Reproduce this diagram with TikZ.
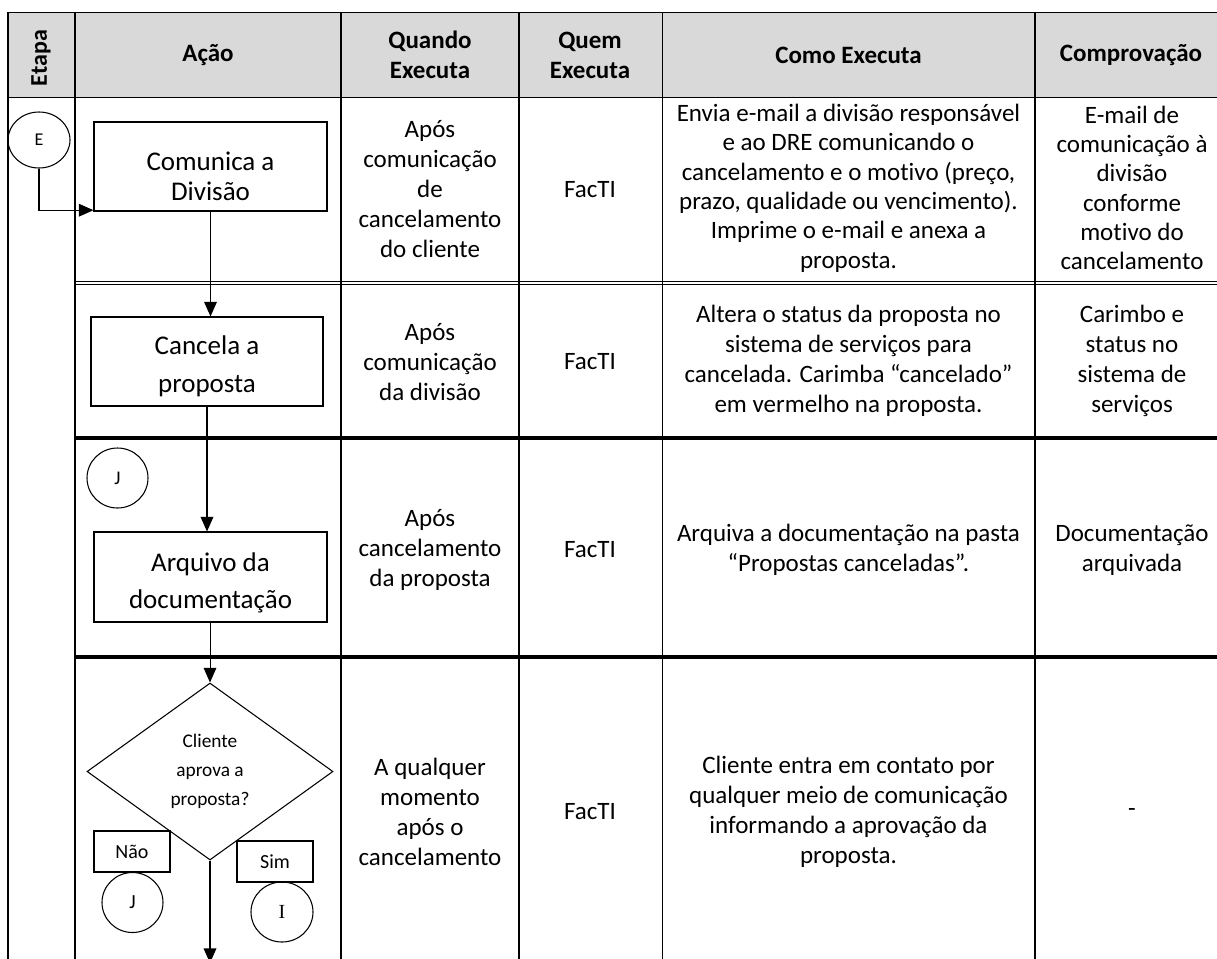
\documentclass[tikz,border=0pt]{standalone}
\usepackage{fontspec}
\setmainfont{Carlito}[Ligatures=NoCommon]
\newfontfamily\serifI{Liberation Serif}
\usetikzlibrary{shapes.geometric,arrows.meta,calc}
\begin{document}
\begin{tikzpicture}[x=0.75pt,y=-0.75pt,
  tblthick/.style={line width=1.2pt},
  tblthin/.style={line width=0.75pt},
  rowsep/.style={line width=2.4pt},
  celltext/.style={align=center,inner sep=0pt,font=\fontsize{18.75pt}{22.5pt}\selectfont},
  tighttext/.style={align=center,inner sep=0pt,font=\fontsize{18.75pt}{22pt}\selectfont},
  headtext/.style={align=center,inner sep=0pt,font=\fontsize{18.75pt}{22.5pt}\selectfont\bfseries},
  procbox/.style={draw,line width=0.8pt,inner sep=0pt,align=center,minimum width=174.75pt,minimum height=66.75pt},
  decision/.style={diamond,draw,line width=0.8pt,inner sep=0pt,align=center,minimum width=184.5pt,minimum height=132.75pt,font=\fontsize{14.5pt}{21.75pt}\selectfont},
  labelbox/.style={draw,fill=white,line width=0.8pt,inner sep=0pt,minimum width=57pt,minimum height=30.75pt,font=\fontsize{15pt}{18pt}\selectfont},
  connector/.style={ellipse,draw,line width=0.8pt,inner sep=0pt,minimum width=45.75pt,minimum height=45pt},
  flow/.style={line width=1pt,-{Triangle[length=11pt,width=9.5pt]}},
  flowthin/.style={line width=0.75pt,-{Triangle[length=11pt,width=9.5pt]}}
]
\clip (0,0) rectangle (1217,958);
% header background
\fill[black!15] (8,12) rectangle (1217,97);
% table rules
\draw[tblthin] (8,12) -- (1217,12);
\draw[tblthin] (8,97) -- (1217,97);
\draw[tblthick] (8,12) -- (8,960);
\draw[tblthick] (75,12) -- (75,960);
\draw[tblthick] (341,12) -- (341,960);
\draw[tblthick] (519,12) -- (519,960);
\draw[tblthin] (662,12) -- (662,960);
\draw[tblthick] (1035,12) -- (1035,960);
\draw[tblthin] (75,281.5) -- (1217,281.5);
\draw[tblthin] (75,284.5) -- (1217,284.5);
\draw[rowsep] (75,438) -- (1217,438);
\draw[rowsep] (75,657) -- (1217,657);
% header texts
\node[headtext,rotate=90,font=\fontsize{18pt}{20pt}\selectfont\bfseries] (hEtapa) at (41,58) {Etapa};
\node[headtext] (hAcao) at (208,55) {Ação};
\node[headtext] (hQuando) at (430,55) {Quando\\Executa};
\node[headtext] (hQuem) at (590,55) {Quem\\Executa};
\node[headtext] (hComo) at (848.5,55) {Como Executa};
\node[headtext] (hComp) at (1131,55) {Comprovação};
% row 1
\node[celltext] (r1q) at (430,189) {Após\\comunicação\\de\\cancelamento\\do cliente};
\node[celltext] (r1w) at (590,190) {FacTI};
\node[tighttext] (r1c) at (848.5,188) {Envia e-mail a divisão responsável\\e ao DRE comunicando o\\cancelamento e o motivo (preço,\\prazo, qualidade ou vencimento).\\Imprime o e-mail e anexa a\\proposta.};
\node[tighttext] (r1p) at (1132,188) {E-mail de\\comunicação à\\divisão\\conforme\\motivo do\\cancelamento};
% row 2
\node[celltext] (r2q) at (430,362) {Após\\comunicação\\da divisão};
\node[celltext] (r2w) at (590,362) {FacTI};
\node[celltext] (r2c) at (848.5,361) {Altera o status da proposta no\\sistema de serviços para\\cancelada. Carimba “cancelado”\\em vermelho na proposta.};
\node[celltext] (r2p) at (1132,361) {Carimbo e\\status no\\sistema de\\serviços};
% row 3
\node[celltext] (r3q) at (430,550) {Após\\cancelamento\\da proposta};
\node[celltext] (r3w) at (590,550) {FacTI};
\node[celltext] (r3c) at (848.5,550) {Arquiva a documentação na pasta\\“Propostas canceladas”.};
\node[celltext] (r3p) at (1132,550) {Documentação\\arquivada};
% row 4
\node[celltext] (r4q) at (430,812) {A qualquer\\momento\\após o\\cancelamento};
\node[celltext] (r4w) at (590,812) {FacTI};
\node[celltext] (r4c) at (848.5,812) {Cliente entra em contato por\\qualquer meio de comunicação\\informando a aprovação da\\proposta.};
\node[celltext] (r4p) at (1132,812) {-};
% flow chart
\node[connector,minimum width=46.5pt,minimum height=42pt,font=\fontsize{13.5pt}{15pt}\selectfont] (cE) at (39,140) {E};
\node[procbox,font=\fontsize{20.25pt}{22.5pt}\selectfont] (b1) at (210.5,166.5) {\rule{0pt}{28pt}Comunica a\\Divisão};
\node[procbox,minimum width=174pt,font=\fontsize{20.25pt}{28.5pt}\selectfont] (b2) at (207,361.5) {\rule{0pt}{21pt}Cancela a\\proposta};
\node[connector,font=\fontsize{14.5pt}{16pt}\selectfont] (cJa) at (117.5,478) {J};
\node[procbox,minimum height=67.5pt,font=\fontsize{20.25pt}{28pt}\selectfont] (b3) at (210.5,577) {\rule{0pt}{23pt}Arquivo da\\documentação};
\node[decision] (dec) at (210,771.5) {Cliente\\aprova a\\proposta?};
\node[labelbox] (nao) at (132,851.5) {Não};
\node[labelbox] (sim) at (275,861.5) {Sim};
\node[connector,font=\fontsize{15pt}{18pt}\selectfont] (cJb) at (132.5,902.5) {J};
\node[connector,minimum width=46.5pt,font=\serifI\fontsize{15pt}{18pt}\selectfont] (cI) at (282,912) {I};
\coordinate (out) at (210,963);
% connectors
\draw[flow] (cE.south) |- ([yshift=1pt]b1.south west);
\draw[flow] (b1.south) -- (b1.south |- b2.north);
\draw[flow] (b2.south) -- (b2.south |- b3.north);
\draw[flowthin] (dec.north |- b3.south) -- (dec.north);
\draw[flow] (dec.south) -- (out);
\end{tikzpicture}
\end{document}
